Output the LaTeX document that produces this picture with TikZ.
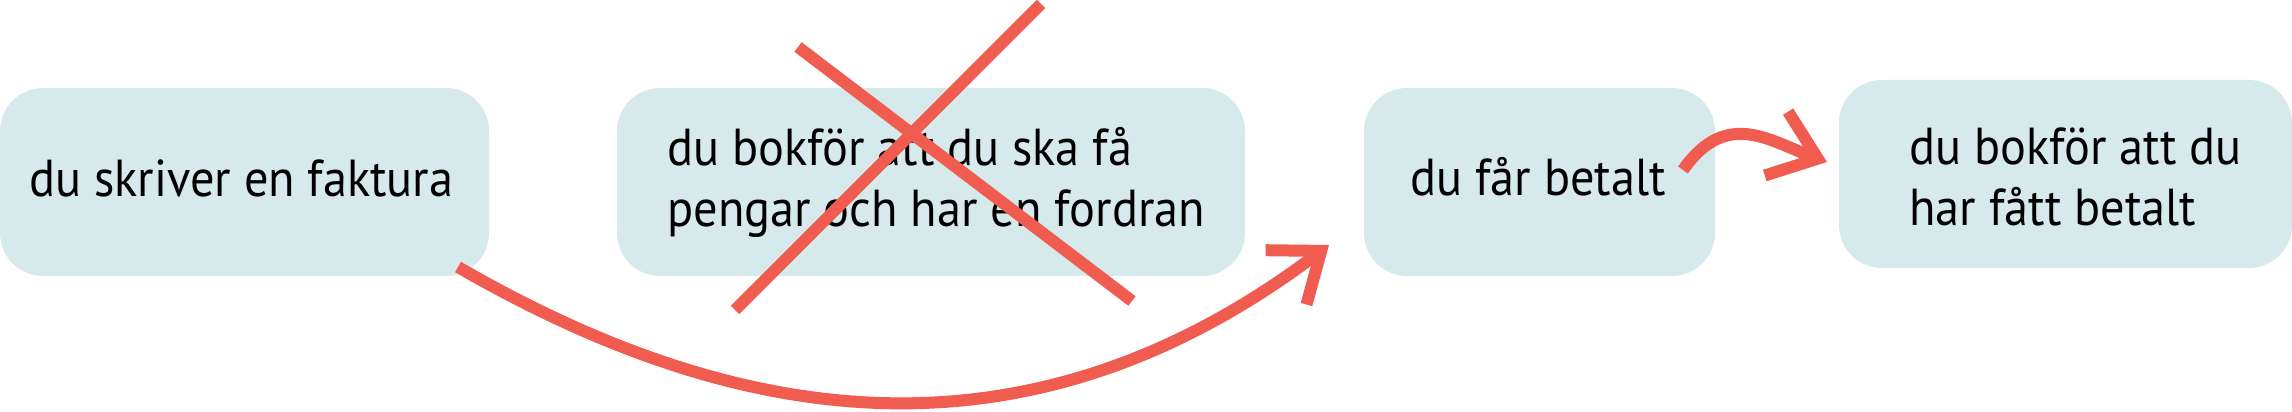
\documentclass[tikz,border=0pt]{standalone}
\usepackage{fontspec}
\setmainfont{PT Sans}[FakeStretch=0.93]
\usetikzlibrary{arrows.meta}
\definecolor{boxc}{RGB}{214,234,235}
\definecolor{redc}{RGB}{241,92,80}
\begin{document}
\begin{tikzpicture}[x=0.5pt,y=0.5pt,
  box/.style={fill=boxc,rounded corners=21.5pt,inner sep=0pt,draw=none,minimum height=94pt},
  lbl/.style={anchor=base west,inner sep=0pt,align=left,font=\fontsize{26}{30.5}\selectfont},
  redline/.style={draw=redc,line width=6pt,line cap=butt},
  arr/.style={redline,-{Straight Barb[length=22pt,width=34pt]}}]
\useasboundingbox (0,0) rectangle (2292,412);
% boxes
\node[box,minimum width=244.5pt] (b1) at (244.5,230) {};
\node[box,minimum width=314pt] (b2) at (931,230) {};
\node[box,minimum width=175.5pt] (b3) at (1539.5,230) {};
\node[box,minimum width=226.5pt] (b4) at (2065.5,238) {};
% texts (multi-line nodes: base = last line)
\node[lbl] (t1) at (29,215) {du skriver en faktura};
\node[lbl] (t2) at (667,185) {du bokför att du ska få\\pengar och har en fordran};
\node[lbl] (t3) at (1410,216) {du får betalt};
\node[lbl] (t4) at (1909,186) {du bokför att du\\har fått betalt};
% cross
\coordinate (x1a) at (798,365);
\coordinate (x1b) at (1132,111);
\coordinate (x2a) at (1041,408);
\coordinate (x2b) at (735,102);
\draw[redline] (x1a) -- (x1b);
\draw[redline] (x2a) -- (x2b);
% big arrow
\coordinate (s1) at (458,145);
\coordinate (e1) at (1329,167);
\draw[arr] (s1) .. controls +(277,-160) and +(-304,-229) .. (e1);
% small arrow
\coordinate (s2) at (1683,242);
\coordinate (e2) at (1827,250);
\draw[arr] (s2) .. controls (1726.5,304) and (1770.2,270.7) .. (e2);
\end{tikzpicture}
\end{document}
